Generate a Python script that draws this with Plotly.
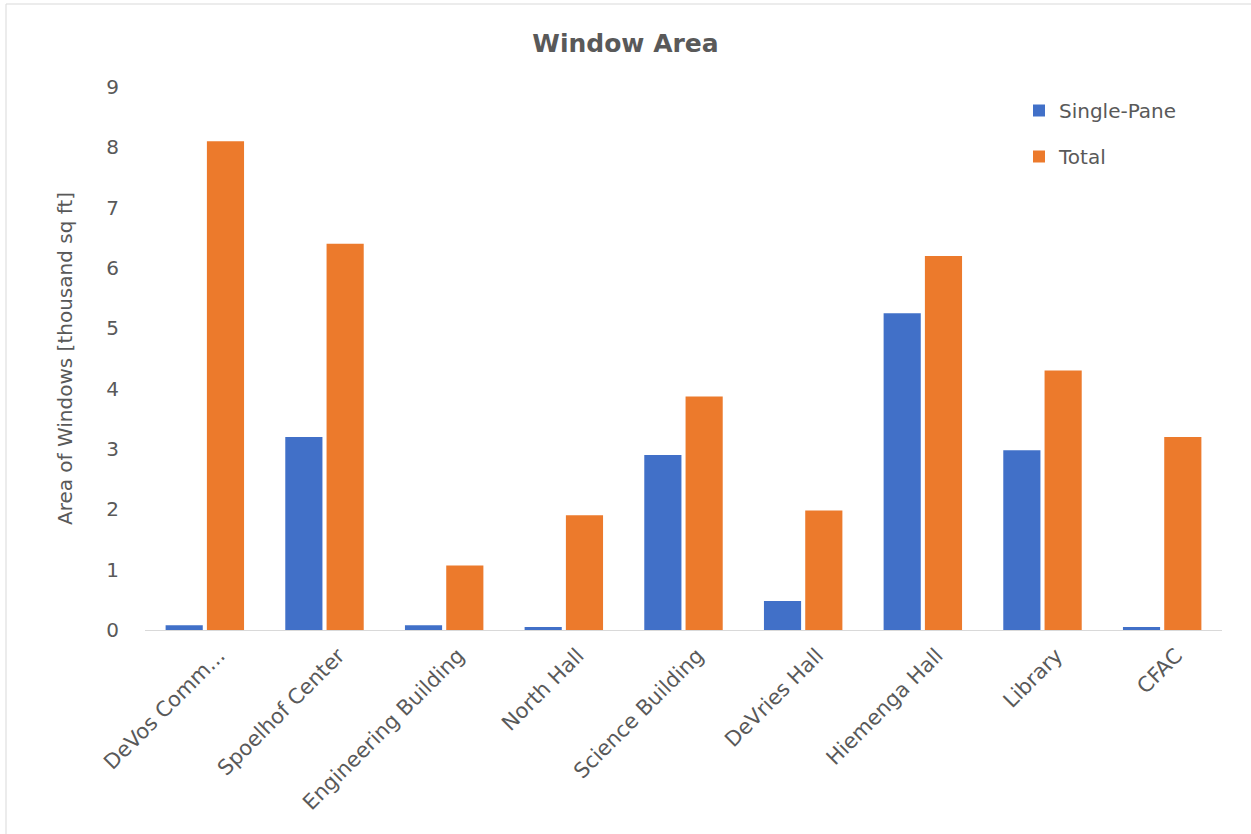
import plotly.graph_objects as go

categories = ["DeVos Comm...", "Spoelhof Center", "Engineering Building", "North Hall",
              "Science Building", "DeVries Hall", "Hiemenga Hall", "Library", "CFAC"]
single_pane = [0.08, 3.2, 0.08, 0.05, 2.9, 0.48, 5.25, 2.98, 0.05]
total = [8.1, 6.4, 1.07, 1.9, 3.87, 1.98, 6.2, 4.3, 3.2]
y_ticks = [0, 1, 2, 3, 4, 5, 6, 7, 8, 9]

W, H = 1251, 834
ml, mr, mt, mb = 145, 29, 87, 204
pw, ph = W - ml - mr, H - mt - mb

fig = go.Figure()
fig.add_trace(go.Bar(name="Single-Pane", x=categories, y=single_pane, legendgroup="a",
                     marker=dict(color="#4170C8", line=dict(width=0))))
fig.add_trace(go.Bar(name="Total", x=categories, y=total, legendgroup="b",
                     marker=dict(color="#EC7A2C", line=dict(width=0))))

font_fam = "DejaVu Sans, Verdana, sans-serif"
grey = "#595959"

fig.update_layout(
    width=W, height=H,
    margin=dict(l=ml, r=mr, t=mt, b=mb, autoexpand=False),
    paper_bgcolor="white", plot_bgcolor="white",
    barmode="group", bargap=0.31, bargroupgap=0.1,
    title=dict(text="<b>Window Area</b>", x=0.5, xanchor="center",
               y=1 - 43 / H, yanchor="middle",
               font=dict(family=font_fam, size=25, color=grey)),
    font=dict(family=font_fam, size=20, color=grey),
    legend=dict(x=(1019 - ml) / pw, y=1 - (91 - mt) / ph, xanchor="left", yanchor="top",
                font=dict(size=20, color=grey), bgcolor="rgba(0,0,0,0)",
                itemwidth=30, tracegroupgap=17),
    showlegend=True,
)
fig.update_yaxes(range=[0, 9], tickvals=y_ticks, showgrid=False, zeroline=False,
                 showline=False, ticks="", ticklabelstandoff=25,
                 tickfont=dict(size=20, color=grey),
                 title=dict(text="Area of Windows [thousand sq ft]", standoff=28,
                            font=dict(size=20, color=grey)))
fig.update_xaxes(showgrid=False, showline=True, linecolor="#D9D9D9", linewidth=1,
                 ticks="", tickangle=-45, ticklabelshift=14, ticklabelstandoff=4,
                 tickfont=dict(size=21, color=grey))

# thin border of the chart area (top and left edges visible)
fig.add_shape(type="line", xref="paper", yref="paper",
              x0=(6 - ml) / pw, x1=(W - ml) / pw, y0=1 + (mt - 4) / ph, y1=1 + (mt - 4) / ph,
              line=dict(color="#D9D9D9", width=1))
fig.add_shape(type="line", xref="paper", yref="paper",
              x0=(6 - ml) / pw, x1=(6 - ml) / pw, y0=1 + (mt - 4) / ph, y1=-(mb) / ph,
              line=dict(color="#D9D9D9", width=1))

fig.write_html("out.html", config={"displayModeBar": False},
               post_script="document.body.style.margin='0';")
